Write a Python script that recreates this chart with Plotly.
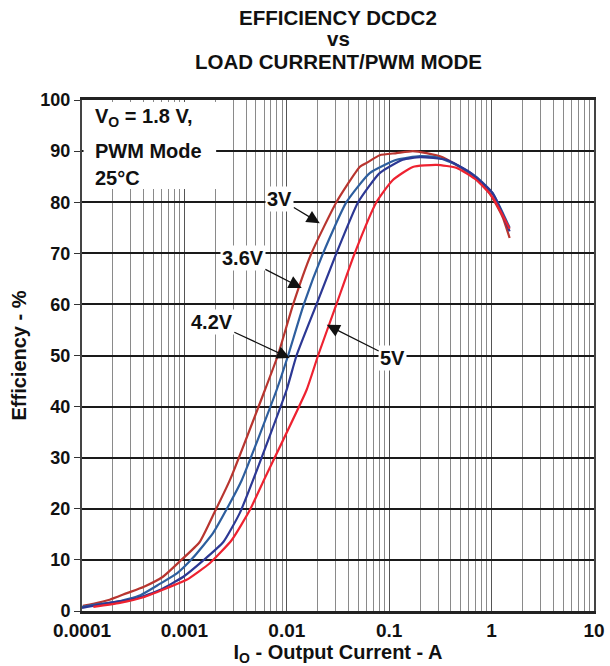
import plotly.graph_objects as go

# ---- data ----
i_3v = [0.000102, 0.000129, 0.000186, 0.000275, 0.000398, 0.000617, 0.000912, 0.00141, 0.0020, 0.00278,
        0.0061, 0.00817, 0.01153, 0.0174, 0.0305, 0.0515, 0.0603, 0.0807, 0.118, 0.17, 0.232, 0.333,
        0.488, 0.714, 0.955, 1.28, 1.5]
e_3v = [1.0, 1.4, 2.2, 3.5, 4.7, 6.7, 9.8, 13.5, 19.6, 25.6,
        43.2, 50, 60, 70, 80, 86.9, 87.7, 89.2, 89.6, 90.0, 89.6, 88.8,
        86.9, 84.7, 81.8, 77.1, 73.0]

i_36v = [0.0001, 0.000129, 0.000219, 0.000372, 0.000575, 0.000851, 0.00121, 0.00191, 0.00278, 0.00363,
         0.00794, 0.0103, 0.01466, 0.0226, 0.0382, 0.0646, 0.118, 0.2, 0.29, 0.457, 0.714, 1.02, 1.5]
e_36v = [0.8, 1.2, 1.8, 3.1, 5.3, 7.4, 10.4, 15.3, 21.1, 25.6,
         43.2, 50, 60, 70, 80, 85.7, 88.3, 89.0, 88.8, 87.3, 84.9, 81.8, 75.0]

i_42v = [0.0001, 0.000112, 0.000186, 0.000347, 0.000575, 0.000977, 0.00151, 0.0024, 0.00348, 0.00468,
         0.00993, 0.01245, 0.0195, 0.0305, 0.0497, 0.0807, 0.1355, 0.2, 0.363, 0.61, 1.02, 1.5]
e_42v = [0.6, 0.8, 1.6, 2.5, 4.1, 6.7, 9.8, 13.5, 19.2, 25.6,
         43.2, 50, 60, 70, 80, 85.7, 88.3, 88.8, 88.3, 85.9, 81.8, 74.3]

i_5v = [0.000129, 0.000234, 0.000398, 0.000676, 0.00105, 0.00178, 0.0029, 0.00437, 0.00597,
        0.01556, 0.0202, 0.0305, 0.046, 0.075, 0.108, 0.17, 0.29, 0.457, 0.714, 1.02, 1.5]
e_5v = [0.8, 1.6, 2.7, 4.5, 6.1, 9.4, 13.9, 19.8, 25.6,
        43.2, 50, 60, 70, 80, 84.3, 86.9, 87.3, 86.7, 84.3, 81.0, 74.8]

series_names = ["3V", "3.6V", "4.2V", "5V"]
series_colors = ["#b8352f", "#2d5e9e", "#2c3894", "#ee2230"]

x_tick_vals = [0.0001, 0.001, 0.01, 0.1, 1, 10]
x_tick_text = ["0.0001", "0.001", "0.01", "0.1", "1", "10"]
y_tick_vals = [0, 10, 20, 30, 40, 50, 60, 70, 80, 90, 100]

title_lines = ["EFFICIENCY DCDC2", "vs", "LOAD CURRENT/PWM MODE"]
cond_lines = ["V<sub>O</sub> = 1.8 V,", "PWM Mode", "25°C"]

# label annotations: (text, text_log_x, text_y, tip_log_x, tip_y)
labels = [
    ("3V", -2.068, 80.6, -1.678, 75.9),
    ("3.6V", -2.429, 69.1, -1.854, 63.2),
    ("4.2V", -2.732, 56.6, -1.971, 49.5),
    ("5V", -0.966, 49.5, -1.610, 56.0),
]

FONT = "Liberation Sans, Arial, sans-serif"
INK = "#111"

fig = go.Figure()
for xs, ys, name, col in zip([i_3v, i_36v, i_42v, i_5v], [e_3v, e_36v, e_42v, e_5v],
                             series_names, series_colors):
    fig.add_trace(go.Scatter(x=xs, y=ys, mode="lines", name=name,
                             line=dict(color=col, width=2.2, shape="spline", smoothing=0.5),
                             showlegend=False))

fig.update_layout(
    width=610, height=666,
    margin=dict(l=82, r=16, t=100, b=55, autoexpand=False),
    paper_bgcolor="white", plot_bgcolor="white",
    font=dict(family=FONT, color=INK),
)

fig.update_xaxes(
    type="log", range=[-4, 1], automargin=False,
    tickvals=x_tick_vals, ticktext=x_tick_text,
    tickfont=dict(family=FONT, size=19, weight="bold", color=INK),
    ticks="", ticklabelstandoff=0,
    showgrid=True, gridcolor="#555", gridwidth=1,
    minor=dict(dtick="D1", showgrid=True, gridcolor="#8a8a8a", gridwidth=1, ticks=""),
    showline=True, linecolor="#222", linewidth=2.5, mirror=True,
    zeroline=False,
    title=dict(text="I<sub>O</sub> - Output Current - A", standoff=0,
               font=dict(family=FONT, size=20, weight="bold", color=INK)),
)
fig.update_yaxes(
    range=[0, 100], tickvals=y_tick_vals, automargin=False,
    tickfont=dict(family=FONT, size=18, weight="bold", color=INK),
    ticks="outside", ticklen=6, tickcolor="#333", tickwidth=1.2,
    showgrid=True, gridcolor="#1a1a1a", gridwidth=1.6,
    showline=True, linecolor="#444", linewidth=2, mirror=True,
    zeroline=False,
    title=dict(text="Efficiency - %", standoff=8,
               font=dict(family=FONT, size=20, weight="bold", color=INK)),
)

# title lines (pixel rows 17, 38, 60 -> paper coords above the plot)
for t, yy in zip(title_lines, [1.1605, 1.1194, 1.0763]):
    fig.add_annotation(text=t, xref="paper", yref="paper", x=0.5, y=yy,
                       xanchor="center", yanchor="middle", showarrow=False,
                       font=dict(family=FONT, size=20.5, weight="bold", color=INK))

# white box for the conditions text
fig.add_shape(type="rect", xref="paper", yref="paper", x0=0.003, x1=0.262, y0=0.826, y1=0.996,
              fillcolor="white", line=dict(width=0), layer="above")
for t, yy in zip(cond_lines, [0.966, 0.901, 0.847]):
    fig.add_annotation(text=t, xref="paper", yref="paper", x=0.022, y=yy,
                       xanchor="left", yanchor="middle", showarrow=False,
                       font=dict(family=FONT, size=20, weight="bold", color=INK))

for t, tx, ty, px, py in labels:
    fig.add_annotation(text=t, x=px, y=py, ax=tx, ay=ty, xref="x", yref="y",
                       axref="x", ayref="y", showarrow=True,
                       arrowhead=2, arrowsize=2, arrowwidth=1.3, arrowcolor=INK,
                       bgcolor="white", borderpad=1,
                       font=dict(family=FONT, size=20, weight="bold", color=INK))

fig.write_html("out.html", config={"displayModeBar": False},
               post_script="document.body.style.margin='0';document.body.style.padding='0';")
